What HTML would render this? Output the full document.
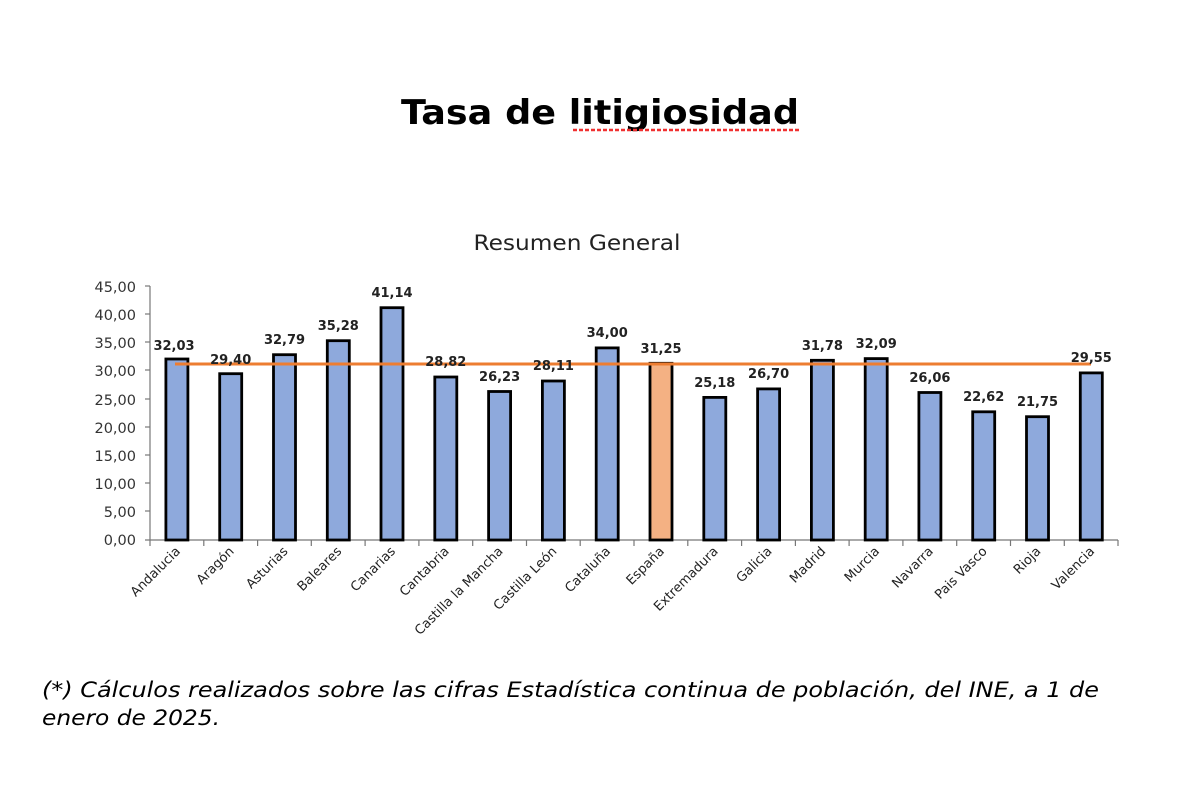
<!DOCTYPE html>
<html><head><meta charset="utf-8"><style>
html,body{margin:0;padding:0;background:#fff;width:1200px;height:801px;overflow:hidden}
svg{display:block}
</style></head><body>
<svg width="1200" height="801" viewBox="0 0 1200 801" xmlns="http://www.w3.org/2000/svg" font-family="'DejaVu Sans','Liberation Sans',sans-serif">
<text x="600" y="124" text-anchor="middle" font-size="34" font-weight="bold" fill="#000" textLength="398" lengthAdjust="spacingAndGlyphs">Tasa de litigiosidad</text>
<line x1="573" y1="130" x2="800" y2="130" stroke="#f03030" stroke-width="2.5" stroke-dasharray="4,2"/>
<text x="577" y="250" text-anchor="middle" font-size="21" fill="#222" textLength="207" lengthAdjust="spacingAndGlyphs">Resumen General</text>

<g font-size="14.5" fill="#333" text-anchor="end">
<text x="136" y="545">0,00</text><text x="136" y="517">5,00</text><text x="136" y="489">10,00</text><text x="136" y="461">15,00</text><text x="136" y="433">20,00</text><text x="136" y="405">25,00</text><text x="136" y="376">30,00</text><text x="136" y="348">35,00</text><text x="136" y="320">40,00</text><text x="136" y="292">45,00</text>
</g>
<g stroke="#777" stroke-width="1.2">
<line x1="150" y1="286" x2="150" y2="540"/>
<line x1="145" y1="540" x2="1118" y2="540"/>
<line x1="145" y1="286" x2="150" y2="286"/><line x1="145" y1="314" x2="150" y2="314"/><line x1="145" y1="342" x2="150" y2="342"/><line x1="145" y1="370" x2="150" y2="370"/><line x1="145" y1="399" x2="150" y2="399"/><line x1="145" y1="427" x2="150" y2="427"/><line x1="145" y1="455" x2="150" y2="455"/><line x1="145" y1="483" x2="150" y2="483"/><line x1="145" y1="511" x2="150" y2="511"/>
<line x1="150" y1="540" x2="150" y2="546"/><line x1="203.8" y1="540" x2="203.8" y2="546"/><line x1="257.6" y1="540" x2="257.6" y2="546"/><line x1="311.3" y1="540" x2="311.3" y2="546"/><line x1="365.1" y1="540" x2="365.1" y2="546"/><line x1="418.9" y1="540" x2="418.9" y2="546"/><line x1="472.7" y1="540" x2="472.7" y2="546"/><line x1="526.5" y1="540" x2="526.5" y2="546"/><line x1="580.2" y1="540" x2="580.2" y2="546"/><line x1="634" y1="540" x2="634" y2="546"/><line x1="687.8" y1="540" x2="687.8" y2="546"/><line x1="741.6" y1="540" x2="741.6" y2="546"/><line x1="795.4" y1="540" x2="795.4" y2="546"/><line x1="849.1" y1="540" x2="849.1" y2="546"/><line x1="902.9" y1="540" x2="902.9" y2="546"/><line x1="956.7" y1="540" x2="956.7" y2="546"/><line x1="1010.5" y1="540" x2="1010.5" y2="546"/><line x1="1064.3" y1="540" x2="1064.3" y2="546"/><line x1="1118" y1="540" x2="1118" y2="546"/>
</g>
<g fill="#8ea9dc" stroke="#000" stroke-width="2.8">
<rect x="165.9" y="359" width="22" height="181"/>
<rect x="219.7" y="373.7" width="22" height="166.3"/>
<rect x="273.5" y="354.7" width="22" height="185.3"/>
<rect x="327.3" y="340.7" width="22" height="199.3"/>
<rect x="381" y="307.7" width="22" height="232.3"/>
<rect x="434.8" y="377" width="22" height="163"/>
<rect x="488.6" y="391.5" width="22" height="148.5"/>
<rect x="542.4" y="381" width="22" height="159"/>
<rect x="596.2" y="347.9" width="22" height="192.1"/>
<rect x="650" y="363.3" width="22" height="176.7" fill="#f4b183"/>
<rect x="703.8" y="397.4" width="22" height="142.6"/>
<rect x="757.6" y="388.9" width="22" height="151.1"/>
<rect x="811.4" y="360.3" width="22" height="179.7"/>
<rect x="865.2" y="358.6" width="22" height="181.4"/>
<rect x="918.9" y="392.5" width="22" height="147.5"/>
<rect x="972.7" y="411.8" width="22" height="128.2"/>
<rect x="1026.5" y="416.7" width="22" height="123.3"/>
<rect x="1080.3" y="372.9" width="22" height="167.1"/>
</g>
<line x1="175" y1="364" x2="1091" y2="364" stroke="#ed7d31" stroke-width="3"/>
<g font-size="13" font-weight="bold" fill="#222" text-anchor="middle">
<text x="174" y="350">32,03</text><text x="230.7" y="364">29,40</text><text x="284.5" y="344">32,79</text><text x="338.3" y="330">35,28</text><text x="392" y="297">41,14</text><text x="445.8" y="366">28,82</text><text x="499.6" y="381">26,23</text><text x="553.4" y="370">28,11</text><text x="607.2" y="337">34,00</text><text x="661" y="353">31,25</text><text x="714.8" y="387">25,18</text><text x="768.6" y="378">26,70</text><text x="822.4" y="350">31,78</text><text x="876.2" y="348">32,09</text><text x="929.9" y="382">26,06</text><text x="983.7" y="401">22,62</text><text x="1037.5" y="406">21,75</text><text x="1091.3" y="362">29,55</text>
</g>
<g font-size="13" fill="#222" text-anchor="end">
<text transform="translate(181,552) rotate(-45)">Andalucia</text>
<text transform="translate(234.7,552) rotate(-45)">Aragón</text>
<text transform="translate(288.5,552) rotate(-45)">Asturias</text>
<text transform="translate(342.3,552) rotate(-45)">Baleares</text>
<text transform="translate(396,552) rotate(-45)">Canarias</text>
<text transform="translate(449.8,552) rotate(-45)">Cantabria</text>
<text transform="translate(503.6,552) rotate(-45)">Castilla la Mancha</text>
<text transform="translate(557.4,552) rotate(-45)">Castilla León</text>
<text transform="translate(611.2,552) rotate(-45)">Cataluña</text>
<text transform="translate(665,552) rotate(-45)">España</text>
<text transform="translate(718.8,552) rotate(-45)">Extremadura</text>
<text transform="translate(772.6,552) rotate(-45)">Galicia</text>
<text transform="translate(826.4,552) rotate(-45)">Madrid</text>
<text transform="translate(880.2,552) rotate(-45)">Murcia</text>
<text transform="translate(933.9,552) rotate(-45)">Navarra</text>
<text transform="translate(987.7,552) rotate(-45)">Pais Vasco</text>
<text transform="translate(1041.5,552) rotate(-45)">Rioja</text>
<text transform="translate(1095.3,552) rotate(-45)">Valencia</text>
</g>
<g font-size="21" font-style="italic" fill="#000">
<text x="42" y="697" textLength="1057" lengthAdjust="spacingAndGlyphs">(*) Cálculos realizados sobre las cifras Estadística continua de población, del INE, a 1 de</text>
<text x="42" y="725" textLength="178" lengthAdjust="spacingAndGlyphs">enero de 2025.</text>
</g>
</svg>
</body></html>
